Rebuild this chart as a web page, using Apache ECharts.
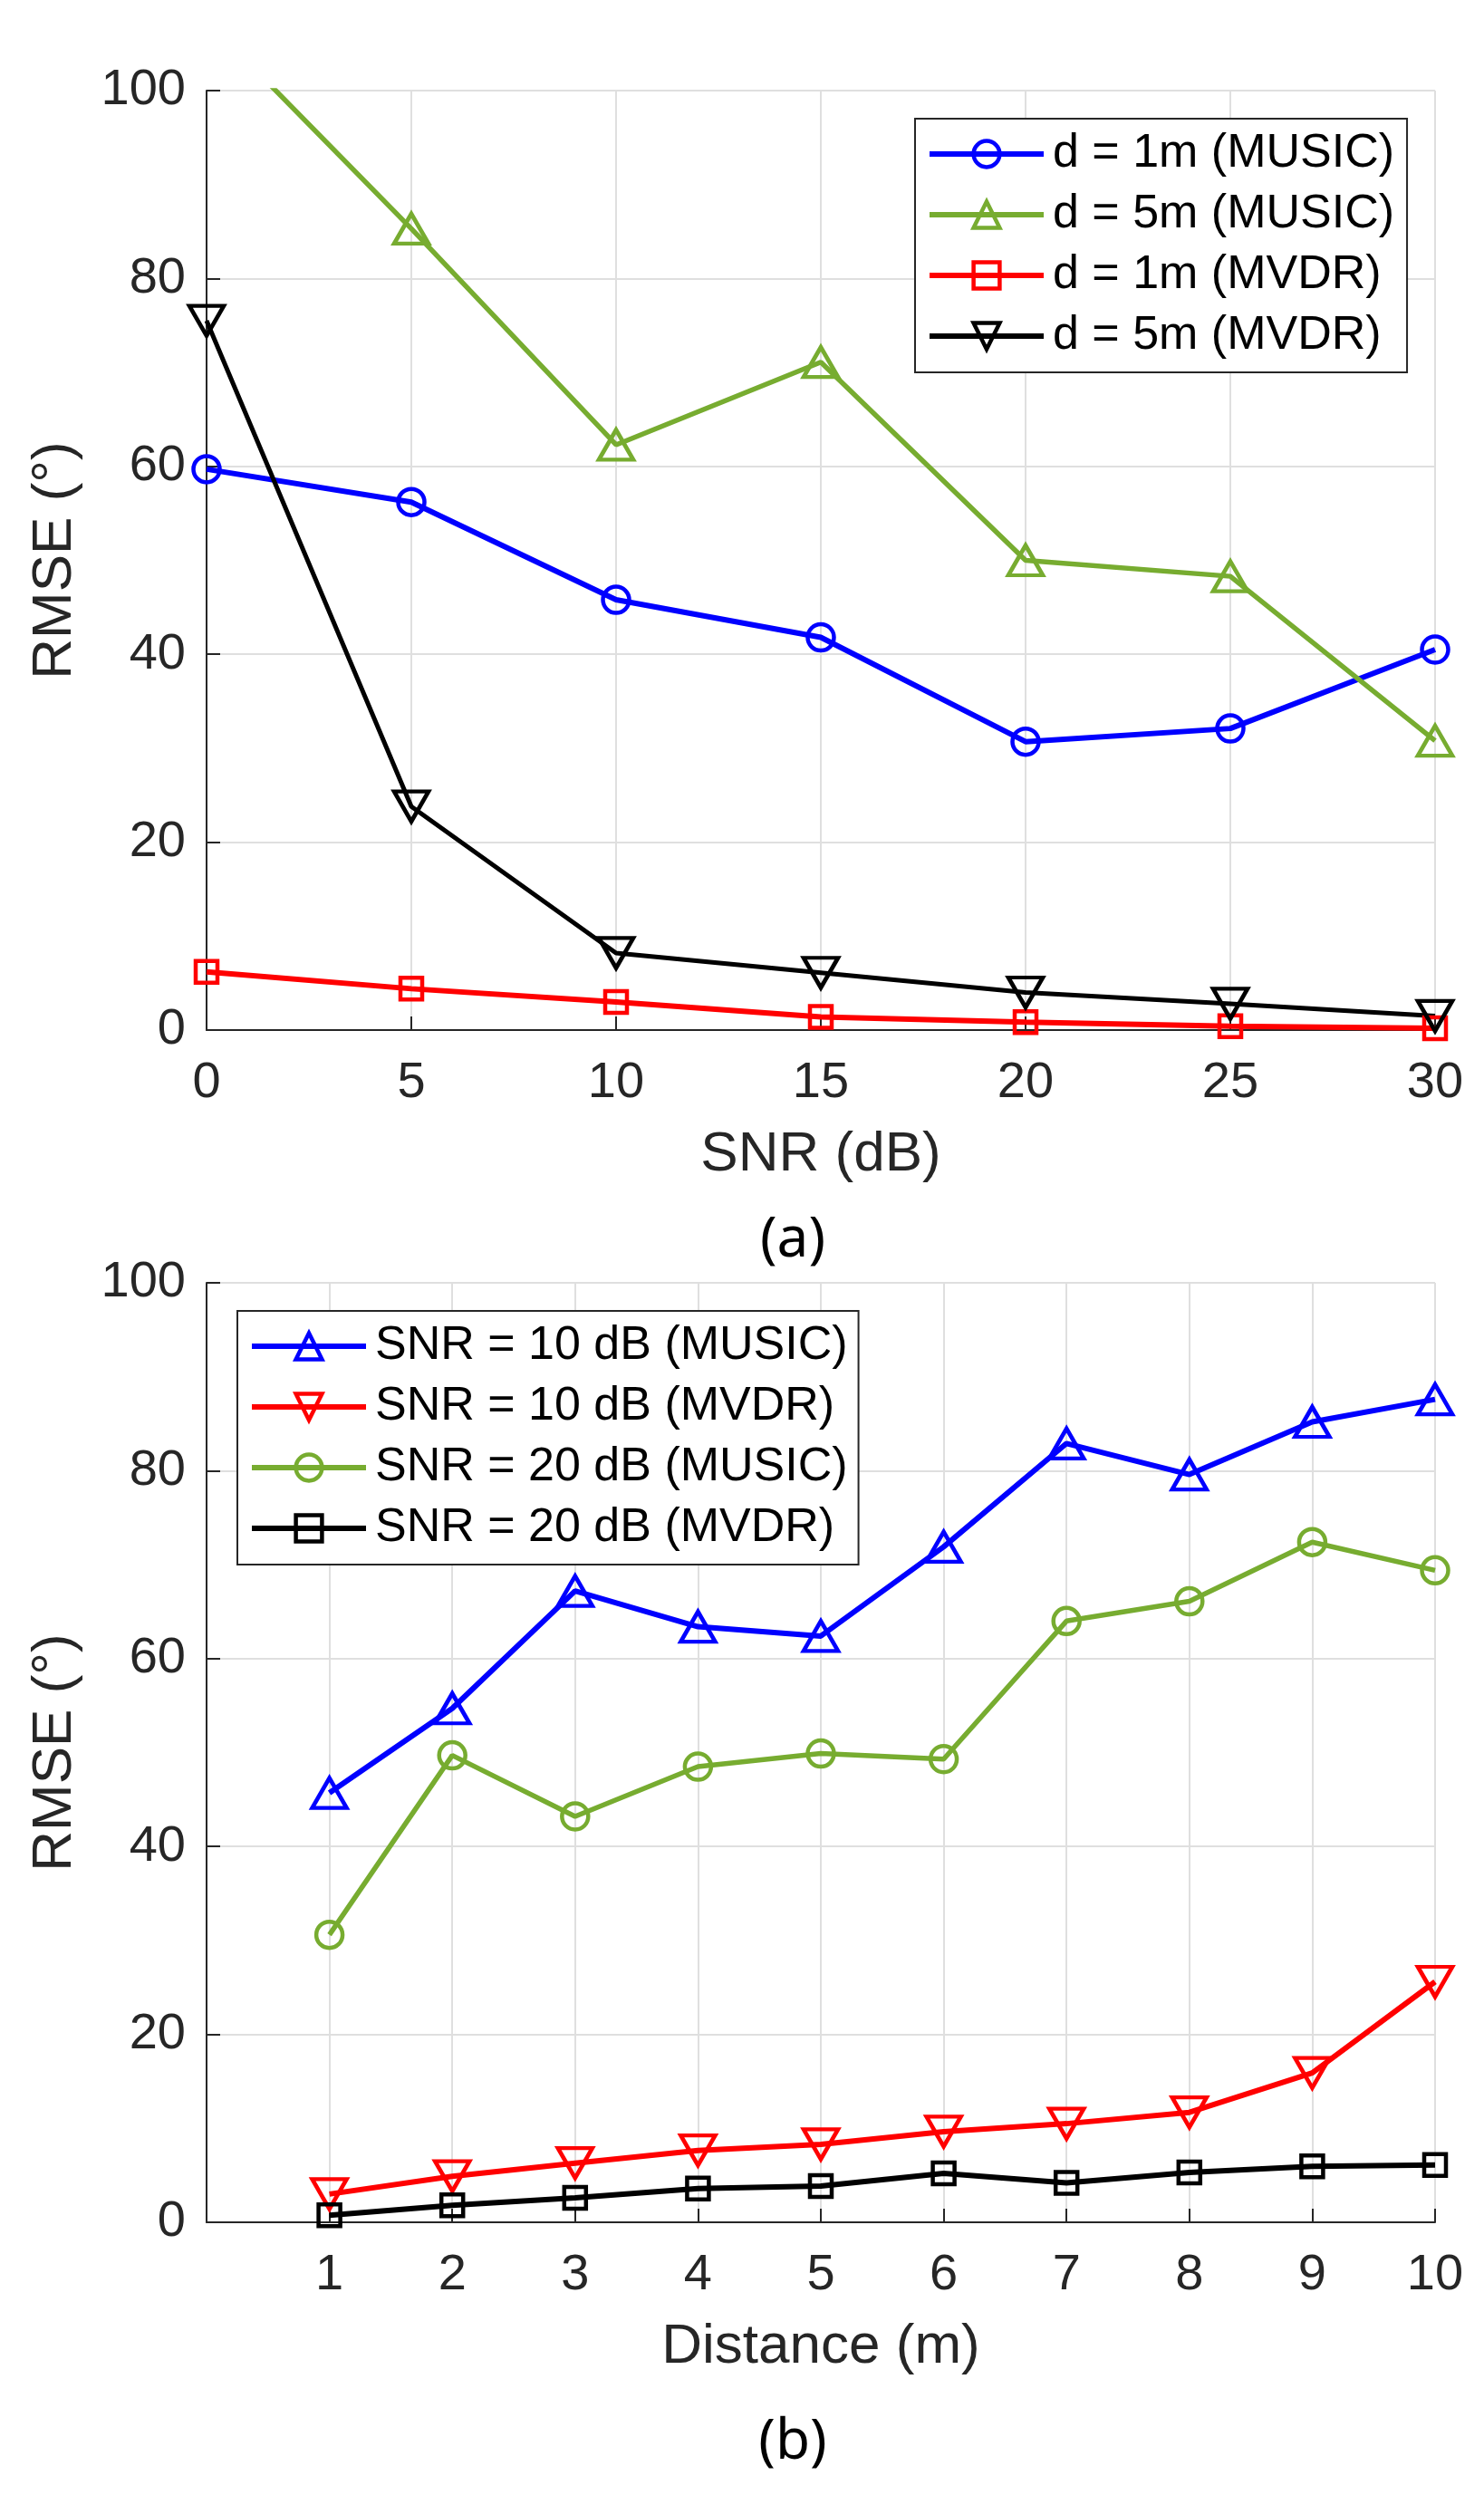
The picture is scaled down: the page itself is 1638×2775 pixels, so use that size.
<!DOCTYPE html>
<html>
<head>
<meta charset="utf-8">
<script src="https://cdn.jsdelivr.net/npm/echarts@6/dist/echarts.min.js"></script>
<style>
html,body{margin:0;padding:0;background:#fff;}
#chart{width:1638px;height:2775px;}
</style>
</head>
<body>
<div id="chart"></div>
<script>
// ---- Data: panel (a) ----
const snrTicks = [0, 5, 10, 15, 20, 25, 30];
const musicD1 = [59.7, 56.2, 45.8, 41.8, 30.7, 32.1, 40.5];
const musicD5 = [107.5, 85.3, 62.3, 71.1, 50.0, 48.3, 30.8];
const mvdrD1 = [6.2, 4.4, 3.0, 1.4, 0.85, 0.4, 0.2];
const mvdrD5 = [75.5, 23.8, 8.2, 6.1, 4.0, 2.8, 1.5];

// ---- Data: panel (b) ----
const distTicks = [1, 2, 3, 4, 5, 6, 7, 8, 9, 10];
const snr10Music = [45.7, 54.7, 67.2, 63.4, 62.4, 71.9, 82.9, 79.6, 85.2, 87.6];
const snr10Mvdr = [3.0, 4.9, 6.3, 7.65, 8.3, 9.65, 10.5, 11.7, 15.9, 25.6];
const snr20Music = [30.6, 49.7, 43.2, 48.5, 49.9, 49.3, 64.0, 66.1, 72.4, 69.4];
const snr20Mvdr = [0.75, 1.8, 2.6, 3.6, 3.85, 5.2, 4.2, 5.3, 5.95, 6.1];

const FONT = '"Liberation Sans", Arial, Helvetica, sans-serif';
const AX = '#262626';
const GRIDC = '#dfdfdf';
const BLUE = '#0000ff', GREEN = '#77ac30', RED = '#ff0000', BLACK = '#000000';

function pairs(xs, ys) { return xs.map((x, i) => [x, ys[i]]); }

function mkSeries(name, xs, ys, color, symbol, size, rotate, gi, lw) {
  return {
    type: 'line', name: name, xAxisIndex: gi, yAxisIndex: gi,
    data: pairs(xs, ys),
    symbol: symbol, symbolSize: size, symbolRotate: rotate,
    showAllSymbol: true, clip: true,
    lineStyle: { color: color, width: lw },
    itemStyle: { color: 'rgba(255,255,255,0)', borderColor: color, borderWidth: 4.5 },
    emphasis: { disabled: true }
  };
}

function xAxisCfg(gi, max, interval, name, hideZero) {
  return {
    type: 'value', gridIndex: gi, min: 0, max: max, interval: interval,
    name: name, nameLocation: 'middle', nameGap: 107,
    nameTextStyle: { fontSize: 62, color: AX, fontFamily: FONT },
    axisLine: { show: true, lineStyle: { color: AX, width: 2 } },
    axisTick: { show: true, inside: true, length: 15, lineStyle: { color: AX, width: 2 } },
    axisLabel: { fontSize: 56, color: AX, fontFamily: FONT, margin: 31,
      formatter: v => (hideZero && v === 0) ? '' : String(v) },
    splitLine: { show: true, lineStyle: { color: GRIDC, width: 2 } }
  };
}
function yAxisCfg(gi) {
  return {
    type: 'value', gridIndex: gi, min: 0, max: 100, interval: 20,
    name: 'RMSE (°)', nameLocation: 'middle', nameGap: 136,
    nameTextStyle: { fontSize: 62, color: AX, fontFamily: FONT },
    axisLine: { show: true, lineStyle: { color: AX, width: 2 } },
    axisTick: { show: true, inside: true, length: 15, lineStyle: { color: AX, width: 2 } },
    axisLabel: { fontSize: 56, color: AX, fontFamily: FONT, margin: 23 },
    splitLine: { show: true, lineStyle: { color: GRIDC, width: 2 } }
  };
}
function legendCfg(left, top, names, padding) {
  return {
    show: true, orient: 'vertical', left: left, top: top, data: names,
    itemWidth: 126, itemHeight: 36, itemGap: 15, padding: padding,
    borderColor: AX, borderWidth: 2, backgroundColor: '#fff',
    lineStyle: { width: 6 },
    itemStyle: { borderWidth: 4.5 },
    textStyle: { fontSize: 52, color: '#000', fontFamily: FONT, padding: [0, 0, 0, 5] },
    selectedMode: false
  };
}

const chart = echarts.init(document.getElementById('chart'), null, { renderer: 'canvas' });
const namesA = ['d = 1m (MUSIC)', 'd = 5m (MUSIC)', 'd = 1m (MVDR)', 'd = 5m (MVDR)'];
const namesB = ['SNR = 10 dB (MUSIC)', 'SNR = 10 dB (MVDR)', 'SNR = 20 dB (MUSIC)', 'SNR = 20 dB (MVDR)'];

chart.setOption({
  animation: false,
  backgroundColor: '#fff',
  grid: [
    { left: 228, top: 100, width: 1356, height: 1037 },
    { left: 228, top: 1416, width: 1356, height: 1037 }
  ],
  xAxis: [
    xAxisCfg(0, 30, 5, 'SNR (dB)', false),
    xAxisCfg(1, 10, 1, 'Distance (m)', true)
  ],
  yAxis: [yAxisCfg(0), yAxisCfg(1)],
  legend: [
    legendCfg(1010, 131, namesA, [13, 14, 14, 13]),
    legendCfg(262, 1447, namesB, [13, 12, 14, 13])
  ],
  graphic: [
    { type: 'text', x: 875, y: 1369, style: { text: '(a)', fontSize: 62, fontFamily: '"Noto Sans", "Open Sans", sans-serif', fill: '#000', align: 'center', verticalAlign: 'middle' } },
    { type: 'text', x: 875, y: 2696, style: { text: '(b)', fontSize: 62, fontFamily: '"Noto Sans", "Open Sans", sans-serif', fill: '#000', align: 'center', verticalAlign: 'middle' } }
  ],
  series: [
    mkSeries(namesA[0], snrTicks, musicD1, BLUE, 'circle', 29, 0, 0, 6),
    mkSeries(namesA[1], snrTicks, musicD5, GREEN, 'triangle', [38, 33], 0, 0, 5.5),
    mkSeries(namesA[2], snrTicks, mvdrD1, RED, 'rect', 24, 0, 0, 6),
    mkSeries(namesA[3], snrTicks, mvdrD5, BLACK, 'triangle', [38, 33], 180, 0, 5),
    mkSeries(namesB[0], distTicks, snr10Music, BLUE, 'triangle', [38, 33], 0, 1, 6),
    mkSeries(namesB[1], distTicks, snr10Mvdr, RED, 'triangle', [38, 33], 180, 1, 6),
    mkSeries(namesB[2], distTicks, snr20Music, GREEN, 'circle', 29, 0, 1, 5.5),
    mkSeries(namesB[3], distTicks, snr20Mvdr, BLACK, 'rect', 24, 0, 1, 6)
  ]
});
</script>
</body>
</html>
